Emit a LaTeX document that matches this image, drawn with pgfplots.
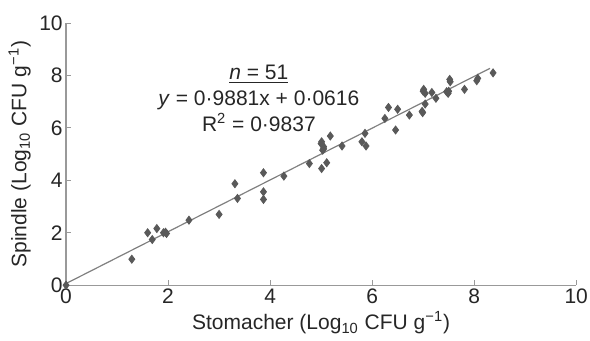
\documentclass[border=0pt]{standalone}
\usepackage{fontspec}
\setmainfont{Liberation Sans}
\usepackage{pgfplots}
\pgfplotsset{compat=1.18}
\begin{document}
\fontsize{10.5}{13}\selectfont
\begin{tikzpicture}
\begin{axis}[
  scale only axis, width=255pt, height=131pt,
  xmin=0, xmax=10, ymin=0, ymax=10,
  axis x line=bottom, axis y line=left,
  axis line style={-, draw=black!40, line width=0.6pt},
  xtick={0,2,...,10}, ytick={0,2,...,10},
  tick style={draw=black!40, line width=0.5pt},
  major tick length=2.5pt,
  tick align=inside,
  /pgf/number format/assume math mode=true,
  ticklabel style={font=\fontsize{10.5}{13}\selectfont, text=black!85},
  xticklabel style={yshift=2pt},
  yticklabel style={xshift=2pt},
  label style={font=\fontsize{10.5}{13}\selectfont, text=black!85},
  xlabel={Stomacher (Log\textsubscript{10} CFU g\textsuperscript{−1})},
  ylabel={Spindle (Log\textsubscript{10} CFU g\textsuperscript{−1})},
  xlabel style={yshift=3pt},
  ylabel style={yshift=-3pt},
  clip=false,
]
\addplot[black!50, line width=0.6pt] coordinates {(0,0.0616) (8.31,8.273)};
\addplot[only marks, mark=diamond*, mark size=2pt, color=black!65, mark options={draw=black!65, fill=black!65}] coordinates {
(0,0) (1.29,0.99) (1.60,2.0) (1.69,1.74) (1.78,2.16) (1.91,2.0) (1.97,1.97) (1.95,2.02)
(2.41,2.48) (3.0,2.70) (3.31,3.87) (3.36,3.31) (3.87,4.29) (3.87,3.56) (3.87,3.27)
(4.27,4.16) (4.77,4.64) (5.01,4.45) (5.11,4.67) (5.01,5.47) (5.05,5.28) (5.18,5.69)
(5.03,5.15) (5.0,5.40) (5.05,5.20) (5.41,5.31) (5.86,5.79) (5.80,5.47) (5.88,5.31)
(6.25,6.36) (6.32,6.78) (6.50,6.71) (6.46,5.92) (6.73,6.49) (6.99,6.58) (6.98,6.63)
(7.04,6.91) (7.01,7.47) (7.04,7.32) (7.00,7.40) (7.17,7.35) (7.25,7.13) (7.46,7.38)
(7.50,7.40) (7.52,7.85) (7.53,7.76) (7.49,7.32) (7.81,7.47) (8.07,7.89) (8.05,7.80)
(8.37,8.10)
};
\node[align=center, text=black!85, font=\fontsize{10.5}{13}\selectfont] at (axis cs:3.78,7.14)
  {\underline{\textit{n} = 51}\\ \textit{y} = 0·9881x + 0·0616\\ R\textsuperscript{2} = 0·9837};
\coordinate (bl) at (axis cs:-1.294,-2.10);
\coordinate (tr) at (axis cs:10.27,10.88);
\end{axis}
\pgfresetboundingbox
\path[use as bounding box] (bl) rectangle (tr);
\end{tikzpicture}
\end{document}
